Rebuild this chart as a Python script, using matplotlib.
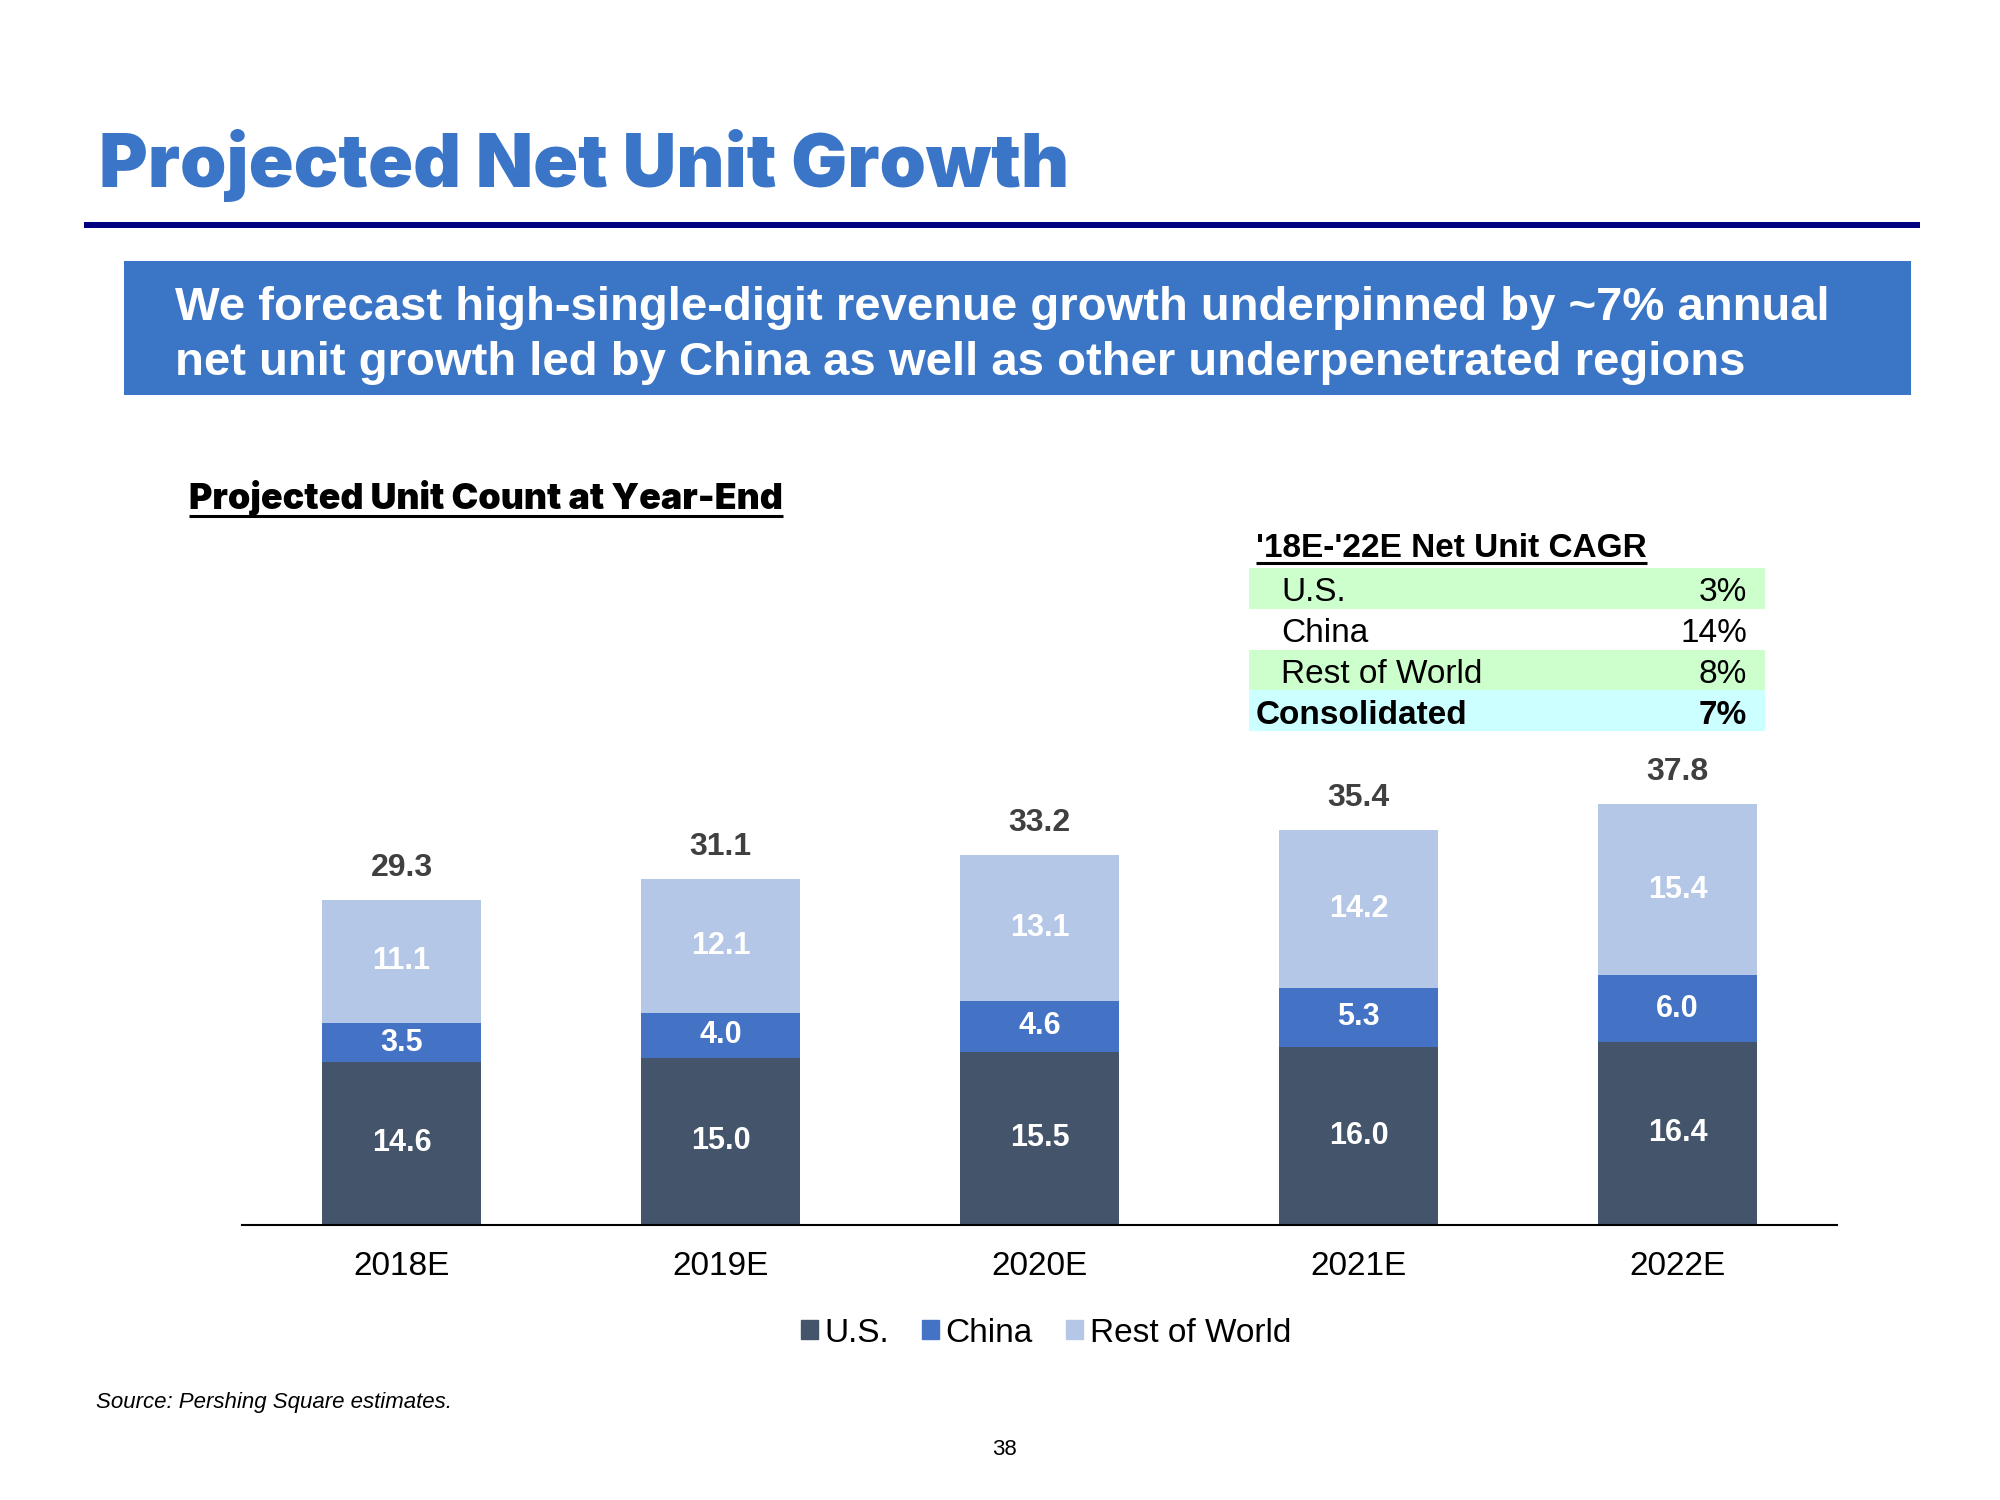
import matplotlib
matplotlib.use("Agg")
import matplotlib.pyplot as plt
from matplotlib.patches import Rectangle, Patch
import numpy as np

plt.rcParams['font.family'] = ['Liberation Sans', 'DejaVu Sans']

# ---------------- data ----------------
years = ["2018E", "2019E", "2020E", "2021E", "2022E"]
us = [14.6, 15.0, 15.5, 16.0, 16.4]
china = [3.5, 4.0, 4.6, 5.3, 6.0]
row = [11.1, 12.1, 13.1, 14.2, 15.4]
totals = [29.3, 31.1, 33.2, 35.4, 37.8]
series_names = ["U.S.", "China", "Rest of World"]

cagr_labels = ["U.S.", "China", "Rest of World", "Consolidated"]
cagr_values = ["3%", "14%", "8%", "7%"]

# ---------------- styling ----------------
c_us = "#44546A"
c_china = "#4472C4"
c_row = "#B4C7E7"
c_title = "#3A75C8"
c_banner = "#3B75C6"
c_navy = "#000080"

W, H = 2000, 1500
fig = plt.figure(figsize=(20, 15), dpi=100)

# overlay axes in pixel coordinates for the slide decoration
ov = fig.add_axes([0, 0, 1, 1])
ov.set_xlim(0, W)
ov.set_ylim(H, 0)
ov.axis("off")
ov.set_zorder(0)

# title
ov.text(99, 187, "Projected Net Unit Growth", fontsize=53.5, fontweight=900,
        family=["Inter", "Liberation Sans"], color=c_title, ha="left", va="baseline")
# rule
ov.add_patch(Rectangle((84, 222), 1836, 6, color=c_navy, lw=0))

# banner
ov.add_patch(Rectangle((124, 261), 1787, 134, color=c_banner, lw=0))
ov.text(175, 320, "We forecast high-single-digit revenue growth underpinned by ~7% annual",
        fontsize=34, fontweight="bold", color="white", ha="left", va="baseline")
ov.text(175, 375, "net unit growth led by China as well as other underpenetrated regions",
        fontsize=34, fontweight="bold", color="white", ha="left", va="baseline")

# subtitle with underline
sub = ov.text(189, 509, "Projected Unit Count at Year-End", fontsize=25.8, fontweight=900,
              family=["Inter", "Liberation Sans"], color="black", ha="left", va="baseline")

# CAGR table
hdr = ov.text(1256, 557, "'18E-'22E Net Unit CAGR", fontsize=24, fontweight="bold",
              color="black", ha="left", va="baseline")
row_top = 568
row_h = 40.8
bg = ["#CCFFCC", "white", "#CCFFCC", "#CCFFFF"]
for i, (lab, val) in enumerate(zip(cagr_labels, cagr_values)):
    y0 = row_top + i * row_h
    ov.add_patch(Rectangle((1249, y0), 516, row_h, color=bg[i], lw=0))
    bold = (lab == "Consolidated")
    yc = y0 + row_h / 2 + 1
    ov.text(1256 if bold else 1281, yc, lab, fontsize=24,
            fontweight="bold" if bold else "normal", color="black",
            ha="left", va="center_baseline")
    ov.text(1747, yc, val, fontsize=24, fontweight="bold" if bold else "normal",
            color="black", ha="right", va="center_baseline")

# source and page number
ov.text(96, 1408, "Source: Pershing Square estimates.", fontsize=16, style="italic",
        color="black", ha="left", va="baseline")
ov.text(1004, 1455, "38", fontsize=16, color="black", ha="center", va="baseline")

# ---------------- bar chart ----------------
ax = fig.add_axes([242 / W, 275.5 / H, 1595 / W, 445 / H])
ax.set_zorder(1)
ax.patch.set_alpha(0)
x = np.arange(len(years))
bw = 0.5
ax.bar(x, us, bw, color=c_us, label=series_names[0])
ax.bar(x, china, bw, bottom=us, color=c_china, label=series_names[1])
bottom2 = [a + b for a, b in zip(us, china)]
ax.bar(x, row, bw, bottom=bottom2, color=c_row, label=series_names[2])

for i in range(len(years)):
    ax.text(x[i], us[i] / 2, f"{us[i]:.1f}", ha="center", va="center",
            color="white", fontsize=22, fontweight="bold")
    ax.text(x[i], us[i] + china[i] / 2, f"{china[i]:.1f}", ha="center", va="center",
            color="white", fontsize=22, fontweight="bold")
    ax.text(x[i], bottom2[i] + row[i] / 2, f"{row[i]:.1f}", ha="center", va="center",
            color="white", fontsize=22, fontweight="bold")
    ax.annotate(f"{totals[i]:.1f}", (x[i], bottom2[i] + row[i]), xytext=(0, 23),
                textcoords="offset points", ha="center", va="center",
                color="#404040", fontsize=23, fontweight="bold")

ax.set_xlim(-0.5, len(years) - 0.5)
ax.set_ylim(0, 40)
ax.set_xticks(x)
ax.set_xticklabels(years, fontsize=24)
ax.tick_params(axis="x", length=0, pad=19)
ax.set_yticks([])
for s in ["top", "right", "left"]:
    ax.spines[s].set_visible(False)
ax.spines["bottom"].set_color("black")
ax.spines["bottom"].set_linewidth(1.5)

handles = [Patch(color=c_us), Patch(color=c_china), Patch(color=c_row)]
fig.legend(handles, series_names, loc="center", bbox_to_anchor=(1046 / W, 1 - 1333 / H),
           ncol=3, frameon=False, fontsize=24, handlelength=0.5, handleheight=0.5,
           handletextpad=0.2, columnspacing=1.0)

# underlines
fig.canvas.draw()
r = fig.canvas.get_renderer()
inv = ov.transData.inverted()
for t, yline in [(sub, 516), (hdr, 563)]:
    bb = t.get_window_extent(r)
    (x0, _), (x1, _) = inv.transform([(bb.x0, bb.y0), (bb.x1, bb.y1)])
    ov.plot([x0, x1], [yline, yline], color="black", lw=2.2, solid_capstyle="butt")

fig.savefig("out.png", dpi=100)
